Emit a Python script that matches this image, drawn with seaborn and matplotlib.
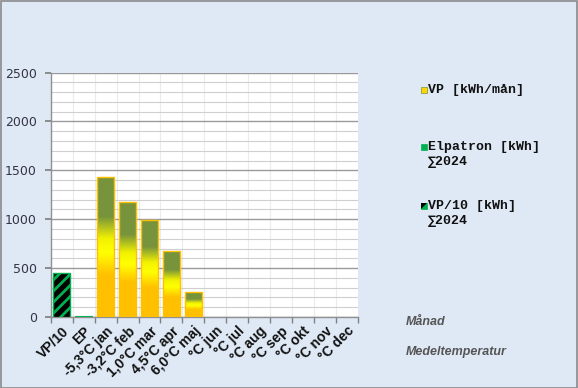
import numpy as np
import pandas as pd
import matplotlib
matplotlib.use("Agg")
import matplotlib.pyplot as plt
from matplotlib.colors import LinearSegmentedColormap
from matplotlib.patches import Rectangle, Polygon
import seaborn as sns

categories = ["VP/10", "EP", "-5,3°C jan", "-3,2°C feb", "1,0°C mar", "4,5°C apr",
              "6,0°C maj", "°C jun", "°C jul", "°C aug", "°C sep", "°C okt",
              "°C nov", "°C dec"]
values = [446, 10, 1428, 1172, 995, 672, 252, None, None, None, None, None, None, None]
legend_labels = ["VP [kWh/mån]", "Elpatron [kWh]\n∑2024", "VP/10 [kWh]\n∑2024"]
y_ticks = [0, 500, 1000, 1500, 2000, 2500]

sns.set_theme(style="white")
plt.rcParams["hatch.linewidth"] = 2.0

BG = "#dfe9f6"
ORANGE = "#ffc000"
GREEN = "#00b050"
OLIVE = "#77933c"

fig = plt.figure(figsize=(5.78, 3.88), dpi=100, facecolor=BG)
ax = fig.add_axes([50.7 / 578, 1 - 317 / 388, (358 - 50.7) / 578, (317 - 72.5) / 388])
ax.set_facecolor("white")

df = pd.DataFrame({"cat": categories, "val": values}).dropna()
sns.barplot(data=df, x="cat", y="val", order=categories, ax=ax, color=ORANGE,
            width=0.75, saturation=1, zorder=3)

ncat = len(categories)
ax.set_xlim(-0.5, ncat - 0.5)
ax.set_ylim(0, 2500)

grad_cmap = LinearSegmentedColormap.from_list(
    "vp", [(0.0, ORANGE), (0.3, ORANGE), (0.46, "#ffff00"), (0.56, "#f2f200"),
           (0.72, OLIVE), (1.0, OLIVE)])
grad = np.linspace(0, 1, 256).reshape(-1, 1)

for p in ax.patches:
    cx = p.get_x() + p.get_width() / 2
    idx = int(round(cx))
    h = p.get_height()
    if idx == 0:
        p.set_facecolor("black")
        p.set_edgecolor(GREEN)
        p.set_hatch("///")
        p.set_linewidth(1.0)
    elif idx == 1:
        p.set_facecolor(GREEN)
        p.set_edgecolor(GREEN)
        p.set_linewidth(0.8)
    else:
        p.set_facecolor("none")
        p.set_edgecolor(ORANGE)
        p.set_linewidth(1.0)
        p.set_zorder(4)
        im = ax.imshow(grad, cmap=grad_cmap, origin="lower", aspect="auto",
                       extent=[p.get_x(), p.get_x() + p.get_width(), 0, h], zorder=3)
        im.set_clip_path(p)

ax.set_xlim(-0.5, ncat - 0.5)
ax.set_ylim(0, 2500)

# grid
ax.set_yticks(y_ticks)
ax.set_yticks(np.arange(0, 2501, 100), minor=True)
ax.set_xticks(np.arange(-0.5, ncat, 1), minor=True)
ax.grid(which="major", axis="y", color="#9a9a9a", linewidth=1.0, zorder=0)
ax.grid(which="minor", axis="y", color="#cfcfcf", linewidth=0.8, zorder=0)
ax.vlines(np.arange(0.5, ncat - 1, 1), 0, 2500, color="#ececec", linewidth=0.8, zorder=0.5)
ax.set_axisbelow(True)

ax.set_xticks(range(ncat))
ax.set_xticklabels(categories, rotation=45, ha="right", rotation_mode="anchor",
                   fontsize=10, fontweight="bold", family="Liberation Sans", color="#111111")
ax.tick_params(axis="x", which="major", length=0, pad=5)
ax.tick_params(axis="x", which="minor", length=4, color="#808080", direction="out", bottom=True)
ax.tick_params(axis="y", which="major", length=4, color="#808080", direction="out", left=True,
               labelsize=9, labelcolor="#333344", pad=6)
ax.tick_params(axis="y", which="minor", length=0)
ax.set_yticklabels([str(t) for t in y_ticks])

for s in ["top", "right"]:
    ax.spines[s].set_visible(False)
for s in ["left", "bottom"]:
    ax.spines[s].set_color("#909090")
    ax.spines[s].set_linewidth(1.0)
ax.set_xlabel("")
ax.set_ylabel("")

# legend (manual)
mono = dict(family="Liberation Mono", fontweight="bold", fontsize=9.5, color="#111111")
lx_m, lx_t = 421 / 578, 428 / 578
fig.patches.append(Rectangle((lx_m, 1 - 93 / 388), 6 / 578, 6 / 388, transform=fig.transFigure,
                             facecolor="#ffd700", edgecolor=OLIVE, linewidth=0.5))
fig.text(lx_t, 1 - 90 / 388, legend_labels[0], va="center", ha="left", **mono)
fig.patches.append(Rectangle((lx_m, 1 - 150 / 388), 6 / 578, 6 / 388, transform=fig.transFigure,
                             facecolor=GREEN, edgecolor=GREEN, linewidth=0.5))
l1, l2 = legend_labels[1].split("\n")
fig.text(lx_t, 1 - 147 / 388, l1, va="center", ha="left", **mono)
fig.text(lx_t, 1 - 162 / 388, l2, va="center", ha="left", **mono)
fig.patches.append(Rectangle((lx_m, 1 - 209 / 388), 6 / 578, 6 / 388, transform=fig.transFigure,
                             facecolor=GREEN, edgecolor=GREEN, linewidth=0.5))
fig.patches.append(Polygon([(lx_m, 1 - 209 / 388), (lx_m, 1 - 203 / 388),
                            (lx_m + 6 / 578, 1 - 203 / 388)], closed=True,
                           transform=fig.transFigure, facecolor="black", edgecolor="none"))
l1, l2 = legend_labels[2].split("\n")
fig.text(lx_t, 1 - 206 / 388, l1, va="center", ha="left", **mono)
fig.text(lx_t, 1 - 221 / 388, l2, va="center", ha="left", **mono)

# axis titles
tkw = dict(family="Liberation Sans", fontweight="bold", style="italic", fontsize=9, color="#555555")
fig.text(406 / 578, 1 - 322 / 388, "Månad", va="center", ha="left", **tkw)
fig.text(406 / 578, 1 - 352 / 388, "Medeltemperatur", va="center", ha="left", **tkw)

# figure border
fig.patches.append(Rectangle((0.5 / 578, 0.5 / 388), 1 - 1.5 / 578, 1 - 1.5 / 388,
                             transform=fig.transFigure, fill=False, edgecolor="#8a8a8a",
                             linewidth=1.2))

fig.savefig("out.png", dpi=100, facecolor=BG)
